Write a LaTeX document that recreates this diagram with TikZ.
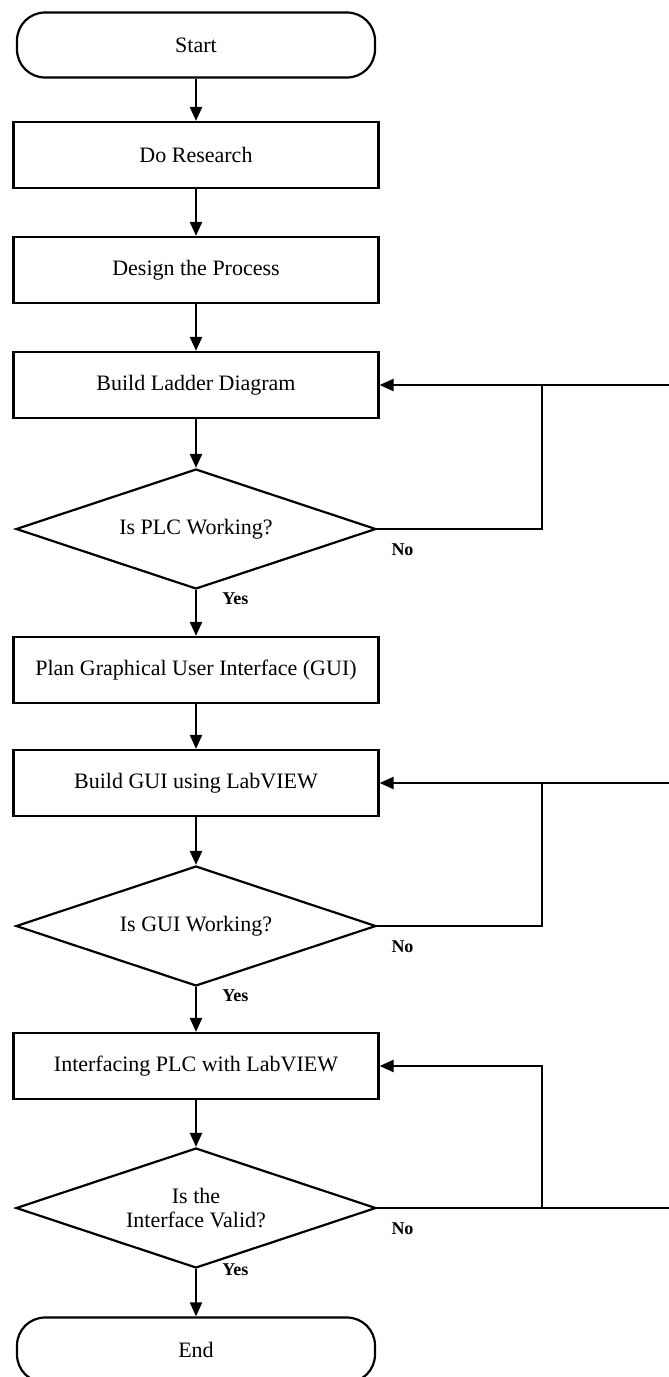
\documentclass[tikz,border=0pt]{standalone}
\usepackage{fontspec}
\setmainfont{Liberation Serif}
\usetikzlibrary{shapes.geometric,arrows.meta,positioning}

\begin{document}
\begin{tikzpicture}[x=0.5pt,y=-0.5pt,
  font=\fontsize{11}{12}\selectfont,
  proc/.style={draw,line width=1.1pt,minimum width=182.5pt,minimum height=33pt,inner sep=2pt},
  term/.style={draw,line width=1.1pt,rounded corners=14pt,minimum width=179pt,minimum height=32.5pt},
  decide/.style={draw,diamond,line width=1.1pt,minimum width=180pt,minimum height=60pt,
                 inner sep=0pt,aspect=3,align=center},
  flow/.style={line width=1.1pt,-{Triangle[length=7pt,width=6pt]}},
  wire/.style={line width=1.1pt},
  lbl/.style={font=\fontsize{9}{11}\selectfont\bfseries,inner sep=0pt}]

% Fix the page to the size of the scan
\useasboundingbox (0,0) rectangle (669,1377);
\clip (0,0) rectangle (669,1377);

% Define parameters
\def\mx{196}         %x of the main column.
\def\rx{542}         %x of the return lines.
\def\ex{669}         %x where the return lines leave the page.

% Steps of the flow
\node[term] (start)    at (\mx,45)   {Start};
\node[proc] (research) at (\mx,155)  {Do Research};
\node[proc] (design)   at (\mx,270)  {Design the Process};
\node[proc] (ladder)   at (\mx,385)  {Build Ladder Diagram};
\node[decide] (plc)    at (\mx,529)  {Is PLC Working?};
\node[proc] (plan)     at (\mx,670)  {Plan Graphical User Interface (GUI)};
\node[proc] (gui)      at (\mx,783)  {Build GUI using LabVIEW};
\node[decide] (guiok)  at (\mx,926)  {Is GUI Working?};
\node[proc] (iface)    at (\mx,1066) {Interfacing PLC with LabVIEW};
\node[decide] (valid)  at (\mx,1208) {Is the\\Interface Valid?};
\node[term] (end)      at (\mx,1350) {End};

% Main arrows
\draw[flow] (start) -- (research);
\draw[flow] (research) -- (design);
\draw[flow] (design) -- (ladder);
\draw[flow] (ladder) -- (plc);
\draw[flow] (plc) -- (plan);
\draw[flow] (plan) -- (gui);
\draw[flow] (gui) -- (guiok);
\draw[flow] (guiok) -- (iface);
\draw[flow] (iface) -- (valid);
\draw[flow] (valid) -- (end);

% Return lines
\coordinate (ret1)  at (\rx,385);
\coordinate (edge1) at (\ex,385);
\coordinate (ret2)  at (\rx,783);
\coordinate (edge2) at (\ex,783);
\coordinate (ret3)  at (\rx,1066);
\coordinate (edge3) at (\ex,1208);

\draw[flow] (plc.east) -| (ret1) -- (ladder.east);
\draw[wire] (ret1) -- (edge1);
\draw[flow] (guiok.east) -| (ret2) -- (gui.east);
\draw[wire] (ret2) -- (edge2);
\draw[flow] (valid.east) -| (ret3) -- (iface.east);
\draw[wire] (valid.east) -- (edge3);

% Yes / No labels
\node[lbl,below right=7pt and 7pt of plc.east]    (no1)  {No};
\node[lbl,below right=1pt and 13pt of plc.south]  (yes1) {Yes};
\node[lbl,below right=7pt and 7pt of guiok.east]  (no2)  {No};
\node[lbl,below right=1pt and 13pt of guiok.south] (yes2) {Yes};
\node[lbl,below right=7pt and 7pt of valid.east]  (no3)  {No};
\node[lbl,below right=-3pt and 13pt of valid.south] (yes3) {Yes};

\end{tikzpicture}
\end{document}
